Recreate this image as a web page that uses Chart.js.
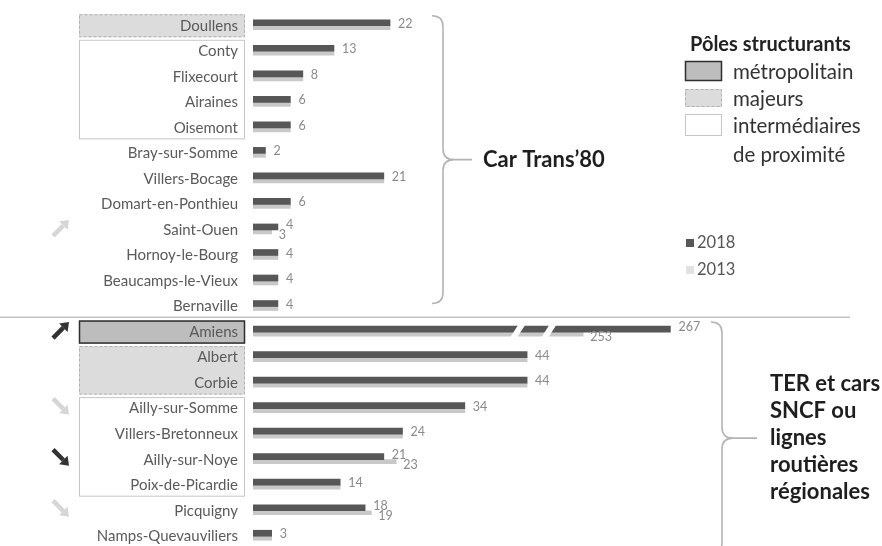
<!DOCTYPE html>
<html>
<head>
<meta charset="utf-8">
<script src="https://cdn.jsdelivr.net/npm/chart.js@4.4.1/dist/chart.umd.min.js"></script>
<style>
  html, body { margin: 0; padding: 0; background: #fff; overflow: hidden; width: 882px; height: 546px; }
  canvas { display: block; }
</style>
</head>
<body>
<canvas id="c" width="882" height="550"></canvas>
<script>
// Communes desservies, de haut en bas
const communes = ['Doullens', 'Conty', 'Flixecourt', 'Airaines', 'Oisemont', 'Bray-sur-Somme',
  'Villers-Bocage', 'Domart-en-Ponthieu', 'Saint-Ouen', 'Hornoy-le-Bourg', 'Beaucamps-le-Vieux',
  'Bernaville', 'Amiens', 'Albert', 'Corbie', 'Ailly-sur-Somme', 'Villers-Bretonneux',
  'Ailly-sur-Noye', 'Poix-de-Picardie', 'Picquigny', 'Namps-Quevauviliers'];

const valeurs2018 = [22, 13, 8, 6, 6, 2, 21, 6, 4, 4, 4, 4, 267, 44, 44, 34, 24, 21, 14, 18, 3];
const valeurs2013 = [22, 13, 8, 6, 6, 2, 21, 6, 3, 4, 4, 4, 253, 44, 44, 34, 24, 23, 14, 19, 3];

// Niveau de pôle structurant de chaque commune
const poles = ['majeur', 'inter', 'inter', 'inter', 'inter', null, null, null, null, null, null, null,
  'metro', 'majeur', 'majeur', 'inter', 'inter', 'inter', 'inter', null, null];

// Flèches d'évolution
const tendances = ['', '', '', '', '', '', '', '', 'hausse-pale', '', '', '',
  'hausse', '', '', 'baisse-pale', '', 'baisse', '', 'baisse-pale', ''];

// Réseaux (accolades)
const reseauxNoms = [["Car Trans’80"], ['TER et cars', 'SNCF ou', 'lignes', 'routières', 'régionales']];
const reseauxDebut = [0, 12];
const reseauxFin = [11, 20];

const legendePoles = ['métropolitain', 'majeurs', 'intermédiaires', 'de proximité'];
const legendeAnnees = ['2018', '2013'];

// Coupure d'axe : les valeurs entre 45 et 245 sont escamotées
const BREAK_LO = 45, BREAK_HI = 245;
function squash(v) {
  if (v <= BREAK_LO) return v;
  if (v >= BREAK_HI) return v - (BREAK_HI - BREAK_LO);
  return BREAK_LO;
}
function unsquash(t) { return t <= BREAK_LO ? t : t + (BREAK_HI - BREAK_LO); }

class BrokenLinearScale extends Chart.LinearScale {
  getPixelForValue(value) { return super.getPixelForValue(squash(value)); }
  getValueForPixel(pixel) { return unsquash(super.getValueForPixel(pixel)); }
}
BrokenLinearScale.id = 'brokenLinear';
BrokenLinearScale.defaults = Chart.LinearScale.defaults;
Chart.register(BrokenLinearScale);

const FONT = 'Lato, "Open Sans", sans-serif';

const boxStyles = {
  metro:  { fill: '#bdbdbd', stroke: '#2e2e2e', lw: 1.5, dash: [] },
  majeur: { fill: '#dcdcdc', stroke: '#b0b0b0', lw: 1, dash: [3, 2] },
  inter:  { fill: '#ffffff', stroke: '#c6c6c6', lw: 1, dash: [] }
};

function drawBox(ctx, x, y, w, h, style) {
  const s = boxStyles[style];
  ctx.save();
  ctx.fillStyle = s.fill;
  ctx.fillRect(x, y, w, h);
  ctx.strokeStyle = s.stroke;
  ctx.lineWidth = s.lw;
  ctx.setLineDash(s.dash);
  ctx.strokeRect(x + 0.5, y + 0.5, w - 1, h - 1);
  ctx.restore();
}

function drawArrow(ctx, x0, y0, x1, y1, color) {
  const a = Math.atan2(y1 - y0, x1 - x0), hl = 8, hw = 6;
  const bx = x1 - hl * Math.cos(a), by = y1 - hl * Math.sin(a);
  ctx.save();
  ctx.strokeStyle = color;
  ctx.lineWidth = 4.5;
  ctx.beginPath(); ctx.moveTo(x0, y0); ctx.lineTo(bx, by); ctx.stroke();
  ctx.fillStyle = color;
  ctx.beginPath();
  ctx.moveTo(x1, y1);
  ctx.lineTo(bx + hw * Math.sin(a), by - hw * Math.cos(a));
  ctx.lineTo(bx - hw * Math.sin(a), by + hw * Math.cos(a));
  ctx.closePath(); ctx.fill();
  ctx.restore();
}

function drawBrace(ctx, x, y0, y1, tailEnd, r) {
  const ym = (y0 + y1) / 2;
  ctx.save();
  ctx.strokeStyle = '#b4b4b4';
  ctx.lineWidth = 1.6;
  ctx.beginPath();
  ctx.moveTo(x - r, y0);
  ctx.quadraticCurveTo(x, y0, x, y0 + r);
  ctx.lineTo(x, ym - r);
  ctx.quadraticCurveTo(x, ym, x + r, ym);
  ctx.lineTo(tailEnd, ym);
  ctx.moveTo(x + r, ym);
  ctx.quadraticCurveTo(x, ym, x, ym + r);
  ctx.lineTo(x, y1 - r);
  ctx.quadraticCurveTo(x, y1, x - r, y1);
  ctx.stroke();
  ctx.restore();
  return ym;
}

const decor = {
  id: 'decor',
  beforeDraw(chart) {
    const ctx = chart.ctx, y = chart.scales.y;
    ctx.save();
    ctx.fillStyle = '#fff';
    ctx.fillRect(0, 0, chart.width, chart.height);
    ctx.restore();
    // Cadres des pôles structurants derrière les noms de communes
    let i = 0;
    while (i < poles.length) {
      if (!poles[i]) { i++; continue; }
      let j = i;
      while (j + 1 < poles.length && poles[j + 1] === poles[i]) j++;
      const top = y.getPixelForValue(i) - 11.5;
      const bot = y.getPixelForValue(j) + 11.5;
      drawBox(ctx, 79, top, 166, bot - top, poles[i]);
      i = j + 1;
    }
  },
  afterDatasetsDraw(chart) {
    const ctx = chart.ctx, x = chart.scales.x, y = chart.scales.y;
    const m18 = chart.getDatasetMeta(0), m13 = chart.getDatasetMeta(1);
    // Marques de coupure sur les barres hors échelle
    valeurs2018.forEach((v, i) => {
      if (v < BREAK_HI) return;
      const b18 = m18.data[i], b13 = m13.data[i];
      const top = b18.y - b18.height / 2 - 2;
      const bot = b13.y + b13.height / 2 + 2;
      [x.getPixelForValue(BREAK_LO - 2.5), x.getPixelForValue(BREAK_HI + 2.5)].forEach(px => {
        ctx.save();
        ctx.fillStyle = '#fff';
        ctx.beginPath();
        ctx.moveTo(px - 8, bot);
        ctx.lineTo(px + 1, top);
        ctx.lineTo(px + 8, top);
        ctx.lineTo(px - 1, bot);
        ctx.closePath();
        ctx.fill();
        ctx.restore();
      });
    });
    // Étiquettes de valeurs
    ctx.save();
    ctx.font = '12.5px ' + FONT;
    ctx.fillStyle = '#8a8a8a';
    ctx.textAlign = 'left';
    ctx.textBaseline = 'middle';
    valeurs2018.forEach((v, i) => {
      const b18 = m18.data[i], b13 = m13.data[i];
      const c = y.getPixelForValue(i);
      if (valeurs2013[i] === v) {
        ctx.fillText(String(v), Math.max(b18.x, b13.x) + 8, c - 2);
      } else {
        ctx.fillText(String(v), b18.x + 8, c - 5);
        ctx.fillText(String(valeurs2013[i]), b13.x + 7, c + 5);
      }
    });
    ctx.restore();
  },
  afterDraw(chart) {
    const ctx = chart.ctx, y = chart.scales.y;
    // Séparation entre les deux réseaux
    const sep = (y.getPixelForValue(11) + y.getPixelForValue(12)) / 2 - 2;
    ctx.save();
    ctx.strokeStyle = '#c2c2c2';
    ctx.lineWidth = 1.5;
    ctx.beginPath(); ctx.moveTo(0, sep); ctx.lineTo(850, sep); ctx.stroke();
    ctx.restore();

    // Flèches d'évolution
    tendances.forEach((t, i) => {
      if (!t) return;
      const c = y.getPixelForValue(i) - 2;
      const color = t.endsWith('pale') ? '#d6d6d6' : '#333333';
      if (t.startsWith('hausse')) drawArrow(ctx, 53, c + 8, 69, c - 8, color);
      else drawArrow(ctx, 53, c - 8, 69, c + 8, color);
    });

    // Accolades et noms des réseaux
    const braceX = [443, 722], tails = [472, 757];
    ctx.save();
    ctx.fillStyle = '#1e1e1e';
    ctx.font = 'bold 22px ' + FONT;
    ctx.textBaseline = 'middle';
    ctx.textAlign = 'left';
    reseauxNoms.forEach((lines, k) => {
      const y0 = y.getPixelForValue(reseauxDebut[k]) - 10;
      const y1 = y.getPixelForValue(reseauxFin[k]) + (k === 0 ? -3 : 18);
      const ym = drawBrace(ctx, braceX[k], y0, y1, tails[k], 11);
      const lh = 27;
      const startY = ym - (lines.length - 1) * lh / 2;
      lines.forEach((l, n) => ctx.fillText(l, tails[k] + (k === 0 ? 11 : 13), startY + n * lh));
    });
    ctx.restore();

    // Légende des pôles
    ctx.save();
    ctx.fillStyle = '#222';
    ctx.font = 'bold 20px ' + FONT;
    ctx.textAlign = 'left';
    ctx.textBaseline = 'middle';
    ctx.fillText('Pôles structurants', 690, 45);
    drawBox(ctx, 685, 61, 37, 20, 'metro');
    drawBox(ctx, 685, 89, 37, 18, 'majeur');
    drawBox(ctx, 685, 114, 37, 22, 'inter');
    ctx.font = '20.5px ' + FONT;
    ctx.fillStyle = '#333';
    ctx.fillText(legendePoles[0], 733, 72);
    ctx.fillText(legendePoles[1], 733, 99);
    ctx.fillText(legendePoles[2], 733, 126);
    ctx.fillText(legendePoles[3], 733, 155);

    // Légende des années
    const couleurs = [chart.data.datasets[0].backgroundColor, '#e2e2e2'];
    ctx.font = '16.5px ' + FONT;
    legendeAnnees.forEach((a, k) => {
      const yy = 243 + k * 27;
      ctx.fillStyle = couleurs[k];
      ctx.fillRect(686, yy - 4, 8, 8);
      ctx.fillStyle = '#555';
      ctx.fillText(a, 697, yy);
    });
    ctx.restore();
  }
};

new Chart(document.getElementById('c'), {
  type: 'bar',
  data: {
    labels: communes,
    datasets: [
      { label: legendeAnnees[0], data: valeurs2018, backgroundColor: '#575757', barThickness: 6 },
      { label: legendeAnnees[1], data: valeurs2013, backgroundColor: '#c8c8c8', barThickness: 4 }
    ]
  },
  options: {
    indexAxis: 'y',
    responsive: false,
    animation: false,
    layout: { padding: { left: 0, right: 6, top: 13, bottom: 1 } },
    plugins: { legend: { display: false }, tooltip: { enabled: false } },
    scales: {
      x: {
        type: 'brokenLinear',
        min: 0, max: 100,
        display: false
      },
      y: {
        type: 'category',
        grid: { display: false, drawTicks: false },
        border: { display: false },
        ticks: { padding: 15, color: '#5a5a5a', font: { family: FONT, size: 15 }, autoSkip: false },
        afterFit(scale) {
          scale.width = 253;
          scale.paddingTop = 0;
          scale.paddingBottom = 0;
        }
      }
    }
  },
  plugins: [decor]
});
</script>
</body>
</html>
